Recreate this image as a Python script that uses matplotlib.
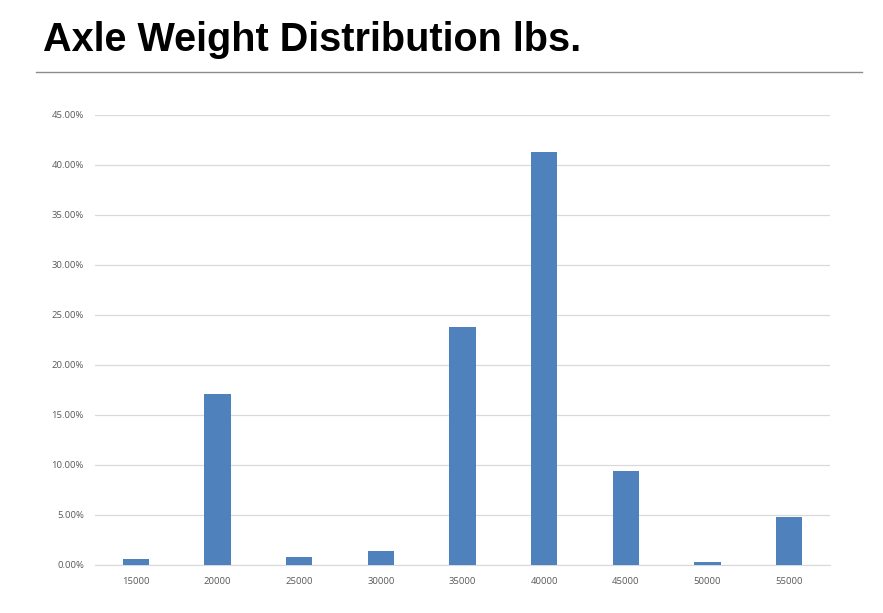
import matplotlib.pyplot as plt
from matplotlib.ticker import PercentFormatter
from matplotlib.lines import Line2D

plt.rcParams['font.family'] = ['Liberation Sans', 'DejaVu Sans']

# data
weights = ["15000", "20000", "25000", "30000", "35000", "40000", "45000", "50000", "55000"]
share = [0.006, 0.171, 0.008, 0.014, 0.238, 0.413, 0.094, 0.003, 0.048]

W, H = 883, 613
fig = plt.figure(figsize=(W / 100, H / 100), dpi=100)
ax = fig.add_axes([95 / W, 1 - 565 / H, (830 - 95) / W, (565 - 115) / H])

ax.bar(range(len(weights)), share, width=0.32, color="#4f81bd", zorder=3)
ax.set_xlim(-0.5, len(weights) - 0.5)
ax.set_ylim(0, 0.45)
ax.set_yticks([i * 0.05 for i in range(10)])
ax.yaxis.set_major_formatter(PercentFormatter(1.0, decimals=2))
ax.set_xticks(range(len(weights)))
ax.set_xticklabels(weights)

ax.grid(axis="y", color="#d9d9d9", linewidth=0.9, zorder=0)
for s in ["top", "right", "left"]:
    ax.spines[s].set_visible(False)
ax.spines["bottom"].set_color("#d9d9d9")
ax.tick_params(axis="both", length=0, labelsize=6.8, colors="#595959")
for lab in ax.get_xticklabels() + ax.get_yticklabels():
    lab.set_family(["Open Sans", "DejaVu Sans"])
ax.tick_params(axis="y", pad=8)
ax.tick_params(axis="x", pad=8.5)

fig.text(43 / W, 1 - 40 / H, "Axle Weight Distribution lbs.", fontsize=28.5,
         fontweight="bold", va="center", ha="left")
fig.add_artist(Line2D([36 / W, 862 / W], [1 - 72 / H, 1 - 72 / H],
                      color="#8c8c8c", linewidth=1, transform=fig.transFigure))

fig.savefig("out.png", dpi=100)
